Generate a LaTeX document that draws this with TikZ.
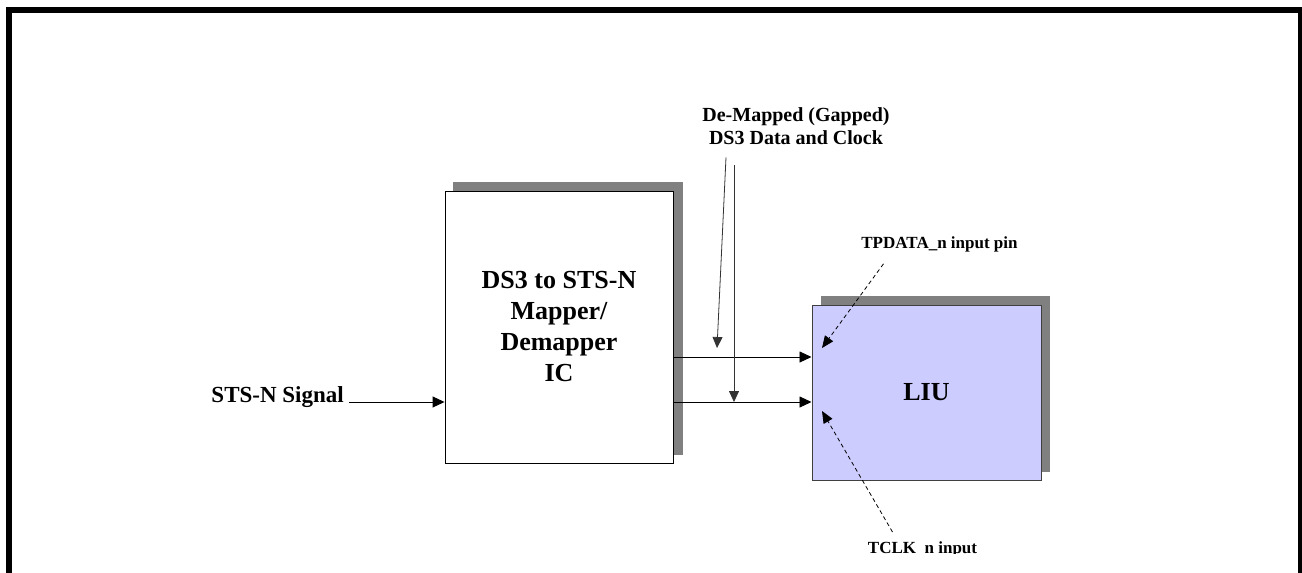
\documentclass[tikz,border=0pt]{standalone}
\usepackage{fontspec}
\setmainfont{Liberation Serif}
\usetikzlibrary{arrows.meta,calc}
\definecolor{liufill}{HTML}{CCCCFF}
\definecolor{shadowgray}{HTML}{808080}
\begin{document}
\begin{tikzpicture}[x=1pt,y=-1pt,
  lbl/.style={inner sep=0pt,font=\bfseries},
  shadowbox/.style={fill=shadowgray,draw=none},
  arr/.style={draw=black,line width=0.9pt,-{Triangle[length=12pt,width=11pt]}},
  varr/.style={draw=black!80,line width=0.8pt,-{Triangle[length=11pt,width=10pt]}},
  dasharr/.style={draw=black,line width=0.8pt,dash pattern=on 4pt off 3pt,-{Triangle[length=12pt,width=10pt]}}]
\useasboundingbox (0,0) rectangle (1302,573);
\clip (0,0) rectangle (1302,573);
% frame
\draw[line width=6pt,line join=miter] (9,600) -- (9,9.5) -- (1300.5,9.5) -- (1300.5,600);
% mapper
\fill[shadowbox] (453,182) rectangle (683,455);
\node[draw=black,line width=0.9pt,fill=white,minimum width=228pt,minimum height=272pt,
  align=center,inner sep=0pt,font=\bfseries\fontsize{26}{31}\selectfont] (mapper) at (559,327)
  {DS3 to STS-N\\Mapper/\\Demapper\\IC};
% LIU
\fill[shadowbox] (821,296) rectangle (1050,472);
\node[draw=black!75,line width=1pt,fill=liufill,minimum width=229pt,minimum height=175pt,
  inner sep=0pt,font=\bfseries\fontsize{26}{31}\selectfont] (liu) at (926.5,392.5) {LIU};
% signal
\node[lbl,anchor=base east,font=\bfseries\fontsize{23}{27}\selectfont] (sig) at (344,402) {STS-N Signal};
\draw[arr] ($(sig.base east)+(5,0)$) -- (mapper.west |- sig.base east);
% rows
\coordinate (r1) at (0,357);
\coordinate (r2) at (0,402);
\draw[arr] (mapper.east |- r1) -- (liu.west |- r1);
\draw[arr] (mapper.east |- r2) -- (liu.west |- r2);
% title
\node[lbl,align=center,anchor=base,font=\bfseries\fontsize{20}{23}\selectfont] (title) at (796,144)
  {De-Mapped (Gapped)\\DS3 Data and Clock};
\coordinate (datastart) at ($(title.south)+(-70,13)$);
\coordinate (clkstart) at ($(title.south)+(-62,21)$);
\coordinate (datatip) at (717,348);
\draw[varr] (datastart) -- (datatip);
\draw[varr] (clkstart) -- (clkstart |- r2);
% TPDATA
\node[lbl,anchor=base,font=\bfseries\fontsize{17}{20}\selectfont] (tpd) at (939.5,248) {TPDATA\_n input pin};
\coordinate (tpdtip) at (822,348);
\draw[dasharr] ($(tpd.south)+(-56,12)$) -- (tpdtip);
% TCLK
\begin{scope}
\clip (780,480) rectangle (1100,553.8);
\node[lbl,anchor=base,font=\bfseries\fontsize{17}{20}\selectfont] (tclk) at (922.5,553) {TCLK\_n input};
\end{scope}
\coordinate (tclktip) at (822,411);
\draw[dasharr] ($(tclk.north)+(-30,-9)$) -- (tclktip);
\end{tikzpicture}
\end{document}
